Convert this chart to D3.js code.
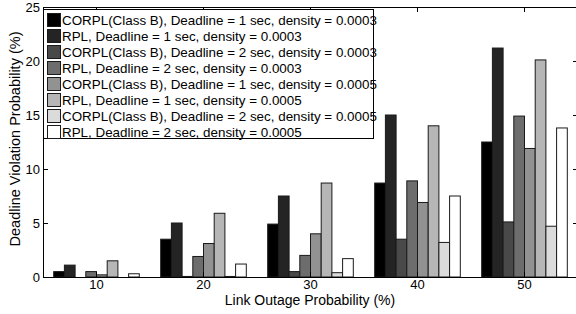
<!DOCTYPE html>
<html>
<head>
<meta charset="utf-8">
<script src="https://cdn.jsdelivr.net/npm/d3@7"></script>
<style>
  body { margin: 0; background: #fff; }
  text { font-family: "Liberation Sans", Arial, sans-serif; }
</style>
</head>
<body>
<script>
// groups on the x axis (link outage probability, %)
var groups = ["10", "20", "30", "40", "50"];
var seriesNames = [
  "CORPL(Class B), Deadline = 1 sec, density = 0.0003",
  "RPL, Deadline = 1 sec, density = 0.0003",
  "CORPL(Class B), Deadline = 2 sec, density = 0.0003",
  "RPL, Deadline = 2 sec, density = 0.0003",
  "CORPL(Class B), Deadline = 1 sec, density = 0.0005",
  "RPL, Deadline = 1 sec, density = 0.0005",
  "CORPL(Class B), Deadline = 2 sec, density = 0.0005",
  "RPL, Deadline = 2 sec, density = 0.0005"
];
// one array per series, one value per group
var corplD1n3 = [0.5, 3.5, 4.9, 8.7, 12.5];
var rplD1n3   = [1.1, 5.0, 7.5, 15.0, 21.2];
var corplD2n3 = [0.0, 0.05, 0.5, 3.5, 5.1];
var rplD2n3   = [0.5, 1.9, 2.0, 8.9, 14.9];
var corplD1n5 = [0.2, 3.1, 4.0, 6.9, 11.9];
var rplD1n5   = [1.5, 5.9, 8.7, 14.0, 20.1];
var corplD2n5 = [0.0, 0.05, 0.4, 3.2, 4.7];
var rplD2n5   = [0.3, 1.2, 1.7, 7.5, 13.8];
var yTicks = [0, 5, 10, 15, 20, 25];

var series = [corplD1n3, rplD1n3, corplD2n3, rplD2n3, corplD1n5, rplD1n5, corplD2n5, rplD2n5];
var colors = ["#000000", "#242424", "#494949", "#6d6d6d", "#929292", "#b6b6b6", "#dbdbdb", "#ffffff"];

var W = 576, H = 314;
var m = {left: 43, right: 578, top: 7, bottom: 277};

var svg = d3.select("body").append("svg")
  .attr("width", W)
  .attr("height", H);

var x = d3.scaleBand().domain(groups).range([m.left, m.right])
  .paddingInner(0.2).paddingOuter(0.1);
var xi = d3.scaleBand().domain(d3.range(series.length)).range([0, x.bandwidth()]);
var y = d3.scaleLinear().domain([0, 25]).range([m.bottom, m.top]);

// bars
var g = svg.append("g");
groups.forEach(function(grp, gi) {
  g.selectAll(null)
    .data(series.map(function(s, si) { return {si: si, v: s[gi]}; }))
    .enter().append("rect")
    .attr("x", function(d) { return x(grp) + xi(d.si); })
    .attr("width", xi.bandwidth())
    .attr("y", function(d) { return y(d.v); })
    .attr("height", function(d) { return y(0) - y(d.v); })
    .attr("fill", function(d) { return colors[d.si]; })
    .attr("stroke", function(d) { return d.v > 0 ? "#1a1a1a" : "none"; })
    .attr("stroke-width", 1);
});

// axes box with inward ticks
var tl = 5;
var axBottom = d3.axisBottom(x).tickSizeInner(-tl).tickSizeOuter(0).tickPadding(3);
var axTop = d3.axisTop(x).tickSizeInner(-tl).tickSizeOuter(0).tickFormat("");
var axLeft = d3.axisLeft(y).tickValues(yTicks).tickSizeInner(-tl).tickSizeOuter(0).tickPadding(3);
var axRight = d3.axisRight(y).tickValues(yTicks).tickSizeInner(-tl).tickSizeOuter(0).tickFormat("");

function styleAxis(sel) {
  sel.selectAll("path").attr("stroke", "#000");
  sel.selectAll("line").attr("stroke", "#000");
  sel.selectAll("text").attr("fill", "#000").style("font-size", "13px")
    .style("font-family", "'Liberation Sans', Arial, sans-serif");
}

svg.append("g").attr("transform", "translate(0," + m.bottom + ")").call(axBottom).call(styleAxis);
svg.append("g").attr("transform", "translate(0," + m.top + ")").call(axTop).call(styleAxis);
svg.append("g").attr("transform", "translate(" + m.left + ",0)").call(axLeft).call(styleAxis);
svg.append("g").attr("transform", "translate(" + m.right + ",0)").call(axRight).call(styleAxis);

// axis titles
svg.append("text")
  .attr("x", 310)
  .attr("y", 305)
  .attr("text-anchor", "middle")
  .style("font-size", "14px")
  .text("Link Outage Probability (%)");

svg.append("text")
  .attr("transform", "translate(20,139) rotate(-90)")
  .attr("text-anchor", "middle")
  .style("font-size", "14.5px")
  .text("Deadline Violation Probability (%)");

// legend
var lg = svg.append("g");
lg.append("rect")
  .attr("x", 43.5).attr("y", 9.5)
  .attr("width", 330).attr("height", 129)
  .attr("fill", "#fff").attr("stroke", "#000").attr("stroke-width", 1);

var rows = lg.selectAll(".row").data(seriesNames).enter().append("g")
  .attr("class", "row")
  .attr("transform", function(d, i) { return "translate(0," + (20 + i * 16) + ")"; });
rows.append("rect")
  .attr("x", 47.5).attr("y", -6.5)
  .attr("width", 13).attr("height", 13)
  .attr("fill", function(d, i) { return colors[i]; })
  .attr("stroke", "#1a1a1a");
rows.append("text")
  .attr("x", 62).attr("y", 4.8)
  .style("font-size", "13.4px")
  .text(function(d) { return d; });
</script>
</body>
</html>
